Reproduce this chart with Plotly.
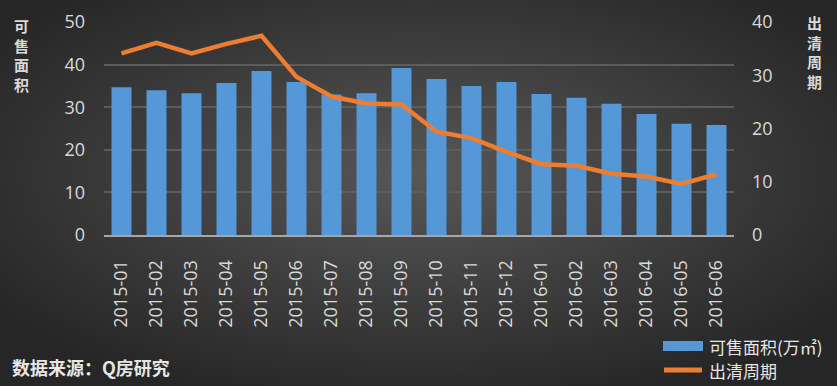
import base64
import plotly.graph_objects as go

months = ["2015-01", "2015-02", "2015-03", "2015-04", "2015-05", "2015-06",
          "2015-07", "2015-08", "2015-09", "2015-10", "2015-11", "2015-12",
          "2016-01", "2016-02", "2016-03", "2016-04", "2016-05", "2016-06"]
area = [34.7, 34.0, 33.3, 35.7, 38.5, 35.9, 33.0, 33.3, 39.2, 36.6, 35.0, 35.9,
        33.1, 32.2, 30.8, 28.4, 26.1, 25.8]
cycle = [34.1, 36.1, 34.1, 35.9, 37.4, 29.7, 26.0, 24.7, 24.5, 19.4, 18.2, 15.6,
         13.3, 13.0, 11.5, 11.0, 9.6, 11.4]
left_ticks = [0, 10, 20, 30, 40, 50]
right_ticks = [0, 10, 20, 30, 40]
area_name = "可售面积(万㎡)"
cycle_name = "出清周期"
left_title = "可售面积"
right_title = "出清周期"
source_text = "数据来源：Q房研究"

W, H = 837, 386
L, R, T, B = 104, 103, 22, 151
pw, ph = W - L - R, H - T - B

def px(x):
    return (x - L) / pw

def py(y):
    return (H - B - y) / ph

svg = f'''<svg xmlns="http://www.w3.org/2000/svg" width="{W}" height="{H}">
<defs><radialGradient id="g" cx="50%" cy="45%" r="62%">
<stop offset="0%" stop-color="#575757"/><stop offset="100%" stop-color="#262626"/>
</radialGradient></defs><rect width="{W}" height="{H}" fill="url(#g)"/></svg>'''
bg = "data:image/svg+xml;base64," + base64.b64encode(svg.encode()).decode()

fig = go.Figure()
fig.add_trace(go.Bar(x=months, y=area, name=area_name,
                     marker=dict(color="#5598d8", line=dict(width=0)), yaxis="y"))
fig.add_trace(go.Scatter(x=months, y=cycle, name=cycle_name, mode="lines",
                         line=dict(color="#ed7d31", width=4.5), yaxis="y2"))

tickfont = dict(family="Open Sans, Noto Sans, sans-serif", size=18, color="#d9d9d9")
cjk = "Noto Sans CJK SC"
annotations = [
    dict(text="<br>".join(left_title), xref="paper", yref="paper", x=px(21), y=py(13),
         xanchor="center", yanchor="top", showarrow=False, align="center",
         font=dict(family=cjk, size=15, color="#d9d9d9", weight="bold")),
    dict(text="<br>".join(right_title), xref="paper", yref="paper", x=px(814), y=py(10),
         xanchor="center", yanchor="top", showarrow=False, align="center",
         font=dict(family=cjk, size=15, color="#d9d9d9", weight="bold")),
    dict(text=source_text, xref="paper", yref="paper", x=px(10), y=py(367),
         xanchor="left", yanchor="middle", showarrow=False,
         font=dict(family=cjk, size=18, color="#e6e6e6", weight="bold")),
    dict(text=area_name, xref="paper", yref="paper", x=px(707), y=py(346),
         xanchor="left", yanchor="middle", showarrow=False,
         font=dict(family=cjk, size=17, color="#e6e6e6")),
    dict(text=cycle_name, xref="paper", yref="paper", x=px(707), y=py(370),
         xanchor="left", yanchor="middle", showarrow=False,
         font=dict(family=cjk, size=17, color="#e6e6e6")),
]

shapes = [
    dict(type="rect", xref="paper", yref="paper", x0=px(663), x1=px(703), y0=py(351), y1=py(341),
         fillcolor="#5598d8", line=dict(width=0)),
    dict(type="line", xref="paper", yref="paper", x0=px(664), x1=px(702), y0=py(370), y1=py(370),
         line=dict(color="#ed7d31", width=5)),
]

fig.update_layout(
    width=W, height=H,
    margin=dict(l=L, r=R, t=T, b=B, autoexpand=False),
    paper_bgcolor="#333333", plot_bgcolor="rgba(0,0,0,0)",
    bargap=0.43,
    showlegend=False,
    xaxis=dict(type="category", tickangle=-90, automargin=False,
               tickfont=dict(family="Open Sans, sans-serif", size=18, color="#d9d9d9"),
               showgrid=False, showline=True, linecolor="#a6a6a6", linewidth=2, ticks="",
               ticklabelstandoff=16),
    yaxis=dict(range=[0, 50], tickvals=left_ticks, tickfont=tickfont, gridcolor="#5c5c5c", gridwidth=1.5,
               zeroline=False, ticks="", ticklabelstandoff=18, automargin=False),
    yaxis2=dict(range=[0, 40], tickvals=right_ticks, tickfont=tickfont, overlaying="y", side="right",
                showgrid=False, zeroline=False, ticks="", ticklabelstandoff=17, automargin=False),
    images=[dict(source=bg, xref="paper", yref="paper", x=-L / pw, y=1 + T / ph,
                 sizex=W / pw, sizey=H / ph, sizing="stretch", layer="below",
                 xanchor="left", yanchor="top")],
    annotations=annotations,
    shapes=shapes,
)
fig.write_html("out.html", config={"displayModeBar": False},
               post_script="document.body.style.margin='0';document.body.style.overflow='hidden';")
